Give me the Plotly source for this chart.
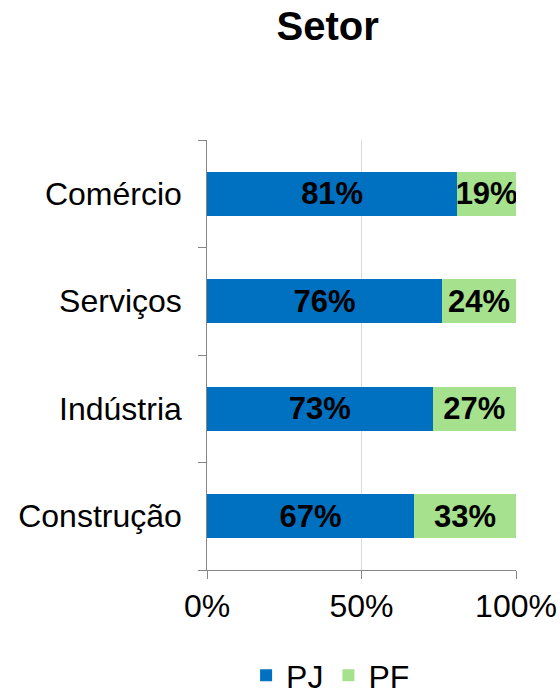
import plotly.graph_objects as go

setores = ["Construção", "Indústria", "Serviços", "Comércio"]
pj = [67, 73, 76, 81]
pf = [33, 27, 24, 19]
x_ticks = [0, 50, 100]
x_tick_labels = ["0%", "50%", "100%"]

font = "Liberation Sans, Arial, sans-serif"
label_font = dict(family=font, size=31, color="black", weight="bold")

fig = go.Figure()
fig.add_trace(go.Bar(
    y=setores, x=pj, name="PJ", orientation="h",
    marker=dict(color="#0070C0", line=dict(width=0)),
    text=[f"{v}%" for v in pj], textposition="inside", textangle=0,
    insidetextanchor="middle", constraintext="none",
    textfont=label_font,
))
fig.add_trace(go.Bar(
    y=setores, x=pf, name="PF", orientation="h",
    marker=dict(color="#A6E18E", line=dict(width=0)),
    text=[f"{v}%" for v in pf], textposition="inside", textangle=0,
    insidetextanchor="middle", constraintext="none",
    textfont=label_font,
))

fig.update_layout(
    barmode="stack",
    bargap=0.59,
    width=560, height=697,
    margin=dict(l=207, r=44, t=140, b=127, autoexpand=False),
    plot_bgcolor="white", paper_bgcolor="white",
    font=dict(family=font, size=32, color="black"),
    title=dict(text="<b>Setor</b>", x=0.585, xanchor="center", y=0.962, yanchor="middle",
               font=dict(size=40, family=font, color="black")),
    legend=dict(orientation="h", x=0.40, xanchor="center", y=-0.309, yanchor="bottom",
                font=dict(size=32, family=font), traceorder="normal",
                itemwidth=30, itemsizing="constant"),
    uniformtext=dict(minsize=31, mode="show"),
)
fig.update_xaxes(
    range=[0, 100], tickvals=x_ticks, ticktext=x_tick_labels,
    showgrid=True, gridcolor="#D9D9D9", gridwidth=1,
    showline=True, linecolor="#868686", linewidth=1,
    ticks="outside", ticklen=8, tickcolor="#868686",
    zeroline=False, tickfont=dict(size=32), fixedrange=True,
)
fig.update_yaxes(
    showline=True, linecolor="#868686", linewidth=1,
    ticks="outside", ticklen=8, tickcolor="#868686", tickson="boundaries",
    showgrid=False, tickfont=dict(size=32), ticksuffix="  ", fixedrange=True,
)

fig.write_html("out.html", config={"displayModeBar": False},
               post_script="document.body.style.margin='0';")
